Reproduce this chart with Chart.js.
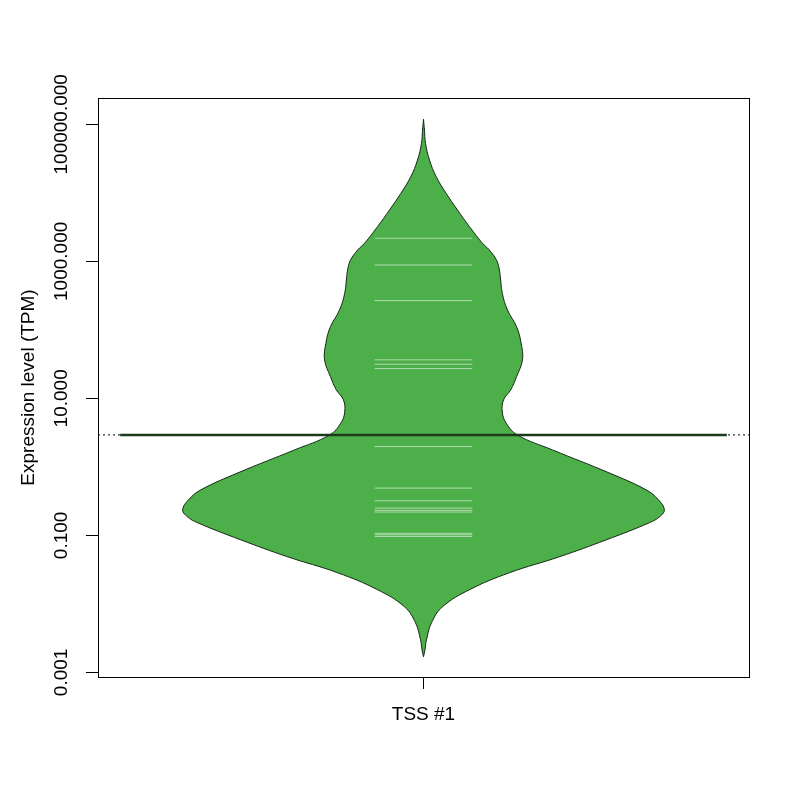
<!DOCTYPE html>
<html>
<head>
<meta charset="utf-8">
<script src="https://cdn.jsdelivr.net/npm/chart.js@4/dist/chart.umd.min.js"></script>
<style>
  html, body { margin: 0; padding: 0; background: #ffffff; }
  #wrap { width: 800px; height: 800px; }
</style>
</head>
<body>
<div id="wrap"><canvas id="bean-chart" width="800" height="800"></canvas></div>
<script>
// bean / violin for one TSS, y on a log scale (TPM)
let categories = ["TSS #1"];
let densityTpm = [0.00169, 0.00214, 0.003, 0.00531, 0.00908, 0.0161, 0.0285, 0.0488, 0.0863, 0.153,
  0.188, 0.236, 0.33, 0.462, 0.818, 1.77, 2.93, 4.35, 6.35, 9.51,
  13.3, 20.8, 36.5, 63.8, 111, 195, 343, 598, 802, 1050, 1470, 1840,
  3210, 5620, 9840, 17200, 30100, 52800, 82200, 118300];
let densityHalfWidth = [0, 0.0023, 0.0046, 0.0123, 0.0292, 0.0706, 0.132, 0.209, 0.281, 0.347,
  0.363, 0.37, 0.361, 0.342, 0.285, 0.198, 0.144, 0.127, 0.121, 0.123,
  0.134, 0.143, 0.152, 0.15, 0.143, 0.129, 0.121, 0.118, 0.116, 0.112, 0.101, 0.0905,
  0.0706, 0.0522, 0.0348, 0.0195, 0.0092, 0.0031, 0.0015, 0];
let beanLineTpm = [2170, 885, 267, 36.5, 31.5, 27.2, 1.98, 0.49, 0.32, 0.25, 0.232, 0.219, 0.107, 0.102, 0.0964];
let medianTpm = 2.93;
let yTickValues = [0.001, 0.1, 10, 1000, 100000];

let center = 0.5;
let beanLineHalf = 0.075;

Chart.defaults.font.family = "'Liberation Sans', Arial, Helvetica, sans-serif";
Chart.defaults.font.size = 19;
Chart.defaults.color = "#000000";

// the R style full box round the plot
let boxPlugin = {
  id: "box",
  afterDraw(chart) {
    let a = chart.chartArea;
    let ctx = chart.ctx;
    ctx.save();
    ctx.strokeStyle = "#000000";
    ctx.lineWidth = 1;
    ctx.strokeRect(Math.round(a.left) + 0.5, Math.round(a.top) + 0.5,
      Math.round(a.right - a.left), Math.round(a.bottom - a.top));
    ctx.restore();
  },
};

let beanLineSets = beanLineTpm.map((v) => ({
  data: [{ x: center - beanLineHalf, y: v }, { x: center + beanLineHalf, y: v }],
  borderColor: "rgba(255, 255, 255, 0.55)",
  borderWidth: 1,
  pointRadius: 0,
  fill: false,
  order: 5,
}));

let beanChart = new Chart("bean-chart", {
  type: "line",
  data: {
    datasets: [
      {
        data: densityTpm.map((v, i) => ({ x: center - densityHalfWidth[i], y: v })),
        borderColor: "#142814",
        borderWidth: 1,
        backgroundColor: "#4DAF4A",
        pointRadius: 0,
        tension: 0.4,
        fill: 1,
        order: 10,
      },
      {
        data: densityTpm.map((v, i) => ({ x: center + densityHalfWidth[i], y: v })),
        borderColor: "#142814",
        borderWidth: 1,
        backgroundColor: "#4DAF4A",
        pointRadius: 0,
        tension: 0.4,
        fill: false,
        order: 9,
      },
      ...beanLineSets,
      {
        data: [{ x: 0, y: medianTpm }, { x: 1, y: medianTpm }],
        borderColor: "#000000",
        borderWidth: 1,
        borderDash: [2, 3],
        pointRadius: 0,
        fill: false,
        order: 2,
      },
      {
        data: [{ x: 0.034, y: medianTpm }, { x: 0.966, y: medianTpm }],
        borderColor: "#1d3a1d",
        borderWidth: 2.5,
        pointRadius: 0,
        fill: false,
        order: 1,
      },
    ],
  },
  options: {
    indexAxis: "y",
    responsive: false,
    animation: false,
    layout: { padding: { top: 98, right: 51, bottom: 0, left: 0 } },
    plugins: {
      legend: { display: false },
      tooltip: { enabled: false },
    },
    scales: {
      x: {
        type: "linear",
        min: 0,
        max: 1,
        afterBuildTicks: (scale) => {
          scale.ticks = [{ value: center }];
        },
        afterFit: (scale) => {
          scale.height = 123;
        },
        ticks: {
          padding: 14,
          maxRotation: 0,
          callback: () => categories[0],
        },
        grid: { drawOnChartArea: false, tickLength: 12, tickColor: "#000000" },
        border: { display: false },
      },
      y: {
        type: "logarithmic",
        bounds: "data",
        min: Math.pow(10, -3.067),
        max: Math.pow(10, 5.384),
        afterBuildTicks: (scale) => {
          scale.ticks = yTickValues.map((v) => ({ value: v }));
        },
        afterFit: (scale) => {
          scale.width = 98;
        },
        ticks: {
          minRotation: 90,
          maxRotation: 90,
          crossAlign: "center",
          padding: -26,
          callback: (v) => Number(v).toFixed(3),
        },
        grid: { drawOnChartArea: false, tickLength: 12, tickColor: "#000000" },
        border: { display: false },
        title: {
          display: true,
          text: "Expression level (TPM)",
          padding: { top: 17 },
        },
      },
    },
  },
  plugins: [boxPlugin],
});
</script>
</body>
</html>
